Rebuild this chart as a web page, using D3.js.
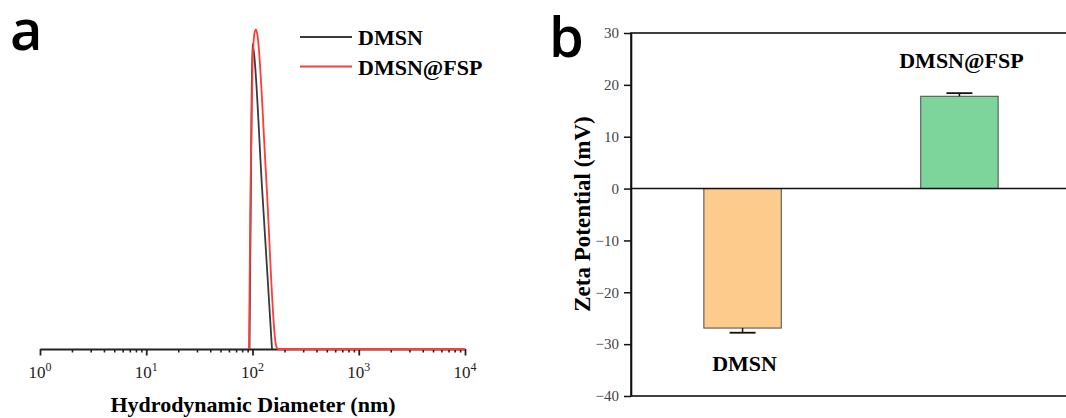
<!DOCTYPE html>
<html>
<head>
<meta charset="utf-8">
<script src="https://cdn.jsdelivr.net/npm/d3@7"></script>
<style>
  body { margin: 0; background: #fff; }
  svg { display: block; }
</style>
</head>
<body>
<div id="chart"></div>
<script>
// ---- panel a : hydrodynamic size distribution ----
const sizeTicks = [1, 10, 100, 1000, 10000];
const sizeExp = ["0", "1", "2", "3", "4"];
const dmsnSize = [93.7, 96.8, 99.6, 102.1, 122.8, 152.6];
const dmsnIntensity = [0, 14, 24.8, 24.4, 13.2, 0];
const fspSize = [92.7, 95.8, 100, 104.5, 107.9, 111.4, 134, 166.4, 173.9, 10000];
const fspIntensity = [0, 13, 23, 25.7, 26, 25.5, 14.2, 0.3, 0, 0];
const seriesNames = ["DMSN", "DMSN@FSP"];

// ---- panel b : zeta potential ----
const zetaGroups = ["DMSN", "DMSN@FSP"];
const zetaValues = [-26.9, 17.8];
const zetaErrors = [0.9, 0.6];
const zetaTicks = [-40, -30, -20, -10, 0, 10, 20, 30];

const W = 1066, H = 418;
const serif = "'Liberation Serif', 'Times New Roman', serif";

const svg = d3.select("#chart").append("svg")
  .attr("width", W).attr("height", H);

// panel letters
svg.append("text").attr("x", 10).attr("y", 50)
  .style("font-family", "'Open Sans', sans-serif").style("font-weight", 600)
  .style("font-size", "56px").text("a");
svg.append("text").attr("x", 549).attr("y", 57)
  .style("font-family", "'Open Sans', sans-serif").style("font-weight", 600)
  .style("font-size", "56px").text("b");

// ========== panel a ==========
const x = d3.scaleLog().domain([1, 10000]).range([40, 465]);
const y = d3.scaleLinear().domain([0, 27]).range([349, 17]);

const gA = svg.append("g");

// minor ticks
const minors = [];
for (let e = 0; e < 4; e++) {
  for (let m = 2; m <= 9; m++) minors.push(m * Math.pow(10, e));
}
gA.append("g")
  .attr("transform", "translate(0,349)")
  .call(d3.axisBottom(x).tickValues(minors).tickSize(3.5).tickFormat(""))
  .call(g => g.select(".domain").remove())
  .call(g => g.selectAll("line").attr("stroke", "#222").attr("stroke-width", 1.6));

const axA = gA.append("g")
  .attr("transform", "translate(0,349)")
  .call(d3.axisBottom(x).tickValues(sizeTicks).tickSize(6.5).tickSizeOuter(0).tickFormat(""));
axA.select(".domain").attr("stroke", "#222").attr("stroke-width", 2);
axA.selectAll("line").attr("stroke", "#222").attr("stroke-width", 1.8);

// tick labels with superscripts
const tl = gA.selectAll(".xlab").data(sizeTicks).join("text")
  .attr("class", "xlab")
  .attr("x", d => x(d))
  .attr("y", 378)
  .attr("text-anchor", "middle")
  .style("font-family", serif).style("font-size", "17px").style("fill", "#222");
tl.append("tspan").text("10");
tl.append("tspan").attr("dy", -7).style("font-size", "12px").text((d, i) => sizeExp[i]);

gA.append("text")
  .attr("x", 253).attr("y", 412)
  .attr("text-anchor", "middle")
  .style("font-family", serif).style("font-weight", "bold").style("font-size", "22px")
  .text("Hydrodynamic Diameter (nm)");

const line = d3.line().x(d => x(d[0])).y(d => y(d[1])).curve(d3.curveMonotoneX);

gA.append("path")
  .datum(dmsnSize.map((s, i) => [s, dmsnIntensity[i]]))
  .attr("d", line).attr("fill", "none")
  .attr("stroke", "#3a3a3a").attr("stroke-width", 1.8);
gA.append("path")
  .datum(fspSize.map((s, i) => [s, fspIntensity[i]]))
  .attr("d", line).attr("fill", "none")
  .attr("stroke", "#ff3b3b").attr("stroke-width", 1.8);

// legend
const legColors = ["#3a3a3a", "#ff3b3b"];
const leg = gA.selectAll(".leg").data(seriesNames).join("g")
  .attr("transform", (d, i) => `translate(300,${37 + i * 29.5})`);
leg.append("line").attr("x1", 0).attr("x2", 52)
  .attr("stroke", (d, i) => legColors[i]).attr("stroke-width", 1.8);
leg.append("text").attr("x", 58).attr("y", 8)
  .style("font-family", serif).style("font-weight", "bold").style("font-size", "22px")
  .text(d => d);

// ========== panel b ==========
const xb = d3.scaleBand().domain(zetaGroups).range([631, 1071])
  .paddingInner(0.643).paddingOuter(0.336);
const yb = d3.scaleLinear().domain([-40, 30]).range([396, 33]);

const gB = svg.append("g");
const barColors = ["#fdcb8c", "#7ed59b"];

gB.selectAll(".bar").data(zetaGroups).join("rect")
  .attr("x", d => xb(d))
  .attr("width", xb.bandwidth())
  .attr("y", (d, i) => yb(Math.max(0, zetaValues[i])))
  .attr("height", (d, i) => Math.abs(yb(zetaValues[i]) - yb(0)))
  .attr("fill", (d, i) => barColors[i])
  .attr("stroke", "#4a4a4a").attr("stroke-width", 1);

// error bars
const errEnd = (i) => zetaValues[i] + Math.sign(zetaValues[i]) * zetaErrors[i];
gB.selectAll(".err").data(zetaGroups).join("line")
  .attr("x1", d => xb(d) + xb.bandwidth() / 2)
  .attr("x2", d => xb(d) + xb.bandwidth() / 2)
  .attr("y1", (d, i) => yb(zetaValues[i]))
  .attr("y2", (d, i) => yb(errEnd(i)))
  .attr("stroke", "#111").attr("stroke-width", 1.5);
gB.selectAll(".cap").data(zetaGroups).join("line")
  .attr("x1", d => xb(d) + xb.bandwidth() / 2 - 13)
  .attr("x2", d => xb(d) + xb.bandwidth() / 2 + 13)
  .attr("y1", (d, i) => yb(errEnd(i)))
  .attr("y2", (d, i) => yb(errEnd(i)))
  .attr("stroke", "#111").attr("stroke-width", 1.8);

// frame
gB.append("rect")
  .attr("x", 631).attr("y", yb(30))
  .attr("width", 440).attr("height", yb(-40) - yb(30))
  .attr("fill", "none").attr("stroke", "#111").attr("stroke-width", 1.6);
gB.append("line")
  .attr("x1", 631).attr("x2", 1071).attr("y1", yb(0)).attr("y2", yb(0))
  .attr("stroke", "#111").attr("stroke-width", 1.6);

const axB = gB.append("g")
  .attr("transform", "translate(631,0)")
  .call(d3.axisLeft(yb).tickValues(zetaTicks).tickSize(7).tickSizeOuter(0).tickPadding(5));
axB.select(".domain").attr("stroke", "#111").attr("stroke-width", 1.6);
axB.selectAll("line").attr("stroke", "#111").attr("stroke-width", 1.5);
axB.selectAll("text")
  .style("font-family", serif).style("font-size", "15px").style("fill", "#444");

// group labels
gB.selectAll(".glab").data(zetaGroups).join("text")
  .attr("x", d => xb(d) + xb.bandwidth() / 2 + 2)
  .attr("y", (d, i) => zetaValues[i] < 0 ? 371 : 68)
  .attr("text-anchor", "middle")
  .style("font-family", serif).style("font-weight", "bold").style("font-size", "22px")
  .text(d => d);

gB.append("text")
  .attr("transform", "translate(590,214) rotate(-90)")
  .attr("text-anchor", "middle")
  .style("font-family", serif).style("font-weight", "bold").style("font-size", "23px")
  .text("Zeta Potential (mV)");
</script>
</body>
</html>
